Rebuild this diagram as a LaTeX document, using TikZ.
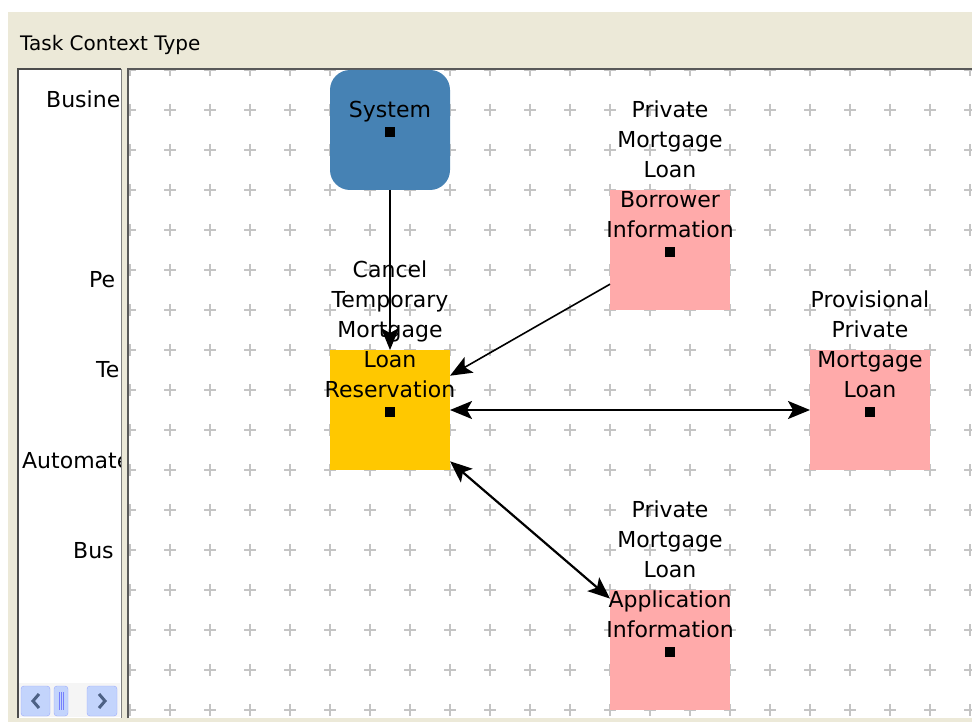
\documentclass[tikz,border=0pt]{standalone}
\usepackage{fontspec}
\setmainfont{DejaVu Sans}
\usetikzlibrary{positioning, arrows.meta}

\definecolor{winbeige}{HTML}{ECE9D8}
\definecolor{sysblue}{HTML}{4682B4}
\definecolor{resyellow}{HTML}{FFC800}
\definecolor{infopink}{HTML}{FFAAAA}
\definecolor{gridgray}{HTML}{C4C4C4}
\definecolor{btnblue}{HTML}{C3D4FC}
\definecolor{btnarrow}{HTML}{4D6185}

\tikzset{
	task/.style={minimum size=120pt, inner sep=0pt, outer sep=0pt}, % the coloured boxes
	caption/.style={anchor=south, align=center, inner sep=0pt, text depth=0pt, yshift=12.5pt,
		font=\fontsize{22}{30}\selectfont}, % name printed over a box
	centredot/.style={fill=black, minimum size=10pt, inner sep=0pt},
	gridmark/.style={gridgray, line width=1.5pt},
	bighead/.tip={Stealth[length=22pt, width=18pt, inset=5pt]},
	flow/.style={-bighead, line width=1.6pt},
	link/.style={bighead-bighead, line width=2.2pt},
	rowname/.style={anchor=base west, inner sep=0pt, font=\fontsize{22}{30}\selectfont},
}

\begin{document}
\begin{tikzpicture}[x=1pt, y=-1pt, node distance=2cm, on grid]
				\useasboundingbox (0,0) rectangle (972,722);
				% Window frame
				\fill[white] (0,0) rectangle (972,722);
				\fill[winbeige] (8,12) rectangle (972,722);
				\node[anchor=base west, inner sep=0pt, font=\fontsize{20}{22}\selectfont] (title) at (20,51) {Task Context Type};
				
				% Left panel
				\fill[white] (18,69) rectangle (121,718);
				\draw[gray, line width=1pt] (121,69) -- (121,718);
				\draw[black!70, line width=2pt] (18,718) -- (18,69) -- (121,69);
				\begin{scope}
					\clip (19,70) rectangle (120,683);
					\node[rowname] (r1) at (46,107.5) {Busine};
					\node[rowname] (r2) at (89,287.5) {Pe};
					\node[rowname] (r3) at (96,377.5) {Te};
					\node[rowname] (r4) at (22,468.5) {Automate};
					\node[rowname] (r5) at (73,558.5) {Bus};
				\end{scope}
				\fill[black!4] (19,683) rectangle (120,717);
				\filldraw[fill=btnblue, draw=btnblue!80!blue, rounded corners=3pt] (21,686) rectangle (50,716);
				\filldraw[fill=btnblue, draw=btnblue!80!blue, rounded corners=3pt] (54,686) rectangle (68,716);
				\filldraw[fill=btnblue, draw=btnblue!80!blue, rounded corners=3pt] (87,686) rectangle (117,716);
				\draw[btnarrow, line width=3pt] (39,694) -- (33,701) -- (39,708);
				\draw[btnarrow, line width=3pt] (99,694) -- (105,701) -- (99,708);
				\draw[btnblue!60!blue, line width=0.8pt] (59,692) -- (59,710) (61,692) -- (61,710) (63,692) -- (63,710);
				
				% Canvas with grid marks
				\fill[white] (128,69) rectangle (972,718);
				\begin{scope}
					\clip (129,70) rectangle (972,718);
					\foreach \x in {130,170,...,970}
						\foreach \y in {70,110,...,710}
							\draw[gridmark] (\x-6,\y) -- (\x+6,\y) (\x,\y-6) -- (\x,\y+6);
				\end{scope}
				\draw[black!65, line width=2pt] (128,718) -- (128,69) -- (972,69);
				
				% Boxes
				\node[task, fill=sysblue, rounded corners=20pt] (sys) at (390,130) {};
				\node[task, fill=resyellow, below=280pt of sys] (cancel) {};
				\node[task, fill=infopink, above right=160pt and 280pt of cancel] (borrower) {};
				\node[task, fill=infopink, right=480pt of cancel] (provisional) {};
				\node[task, fill=infopink, below right=240pt and 280pt of cancel] (application) {};
				
				% Names
				\node[caption] (sys-text) at (sys.center) {System};
				\node[caption] (cancel-text) at (cancel.center) {Cancel\\Temporary\\Mortgage\\Loan\\Reservation};
				\node[caption] (borrower-text) at (borrower.center) {Private\\Mortgage\\Loan\\Borrower\\Information};
				\node[caption] (provisional-text) at (provisional.center) {Provisional\\Private\\Mortgage\\Loan};
				\node[caption] (application-text) at (application.center) {Private\\Mortgage\\Loan\\Application\\Information};
				\foreach \n in {sys, cancel, borrower, provisional, application}
					\node[centredot] (\n-dot) at ([yshift=-2pt]\n.center) {};
				
				% Connections
				\draw[flow] (sys) -- (cancel);
				\draw[flow] (borrower) -- (cancel);
				\draw[link] (cancel) -- (provisional);
				\draw[link] (cancel) -- (application);
			\end{tikzpicture}
\end{document}
